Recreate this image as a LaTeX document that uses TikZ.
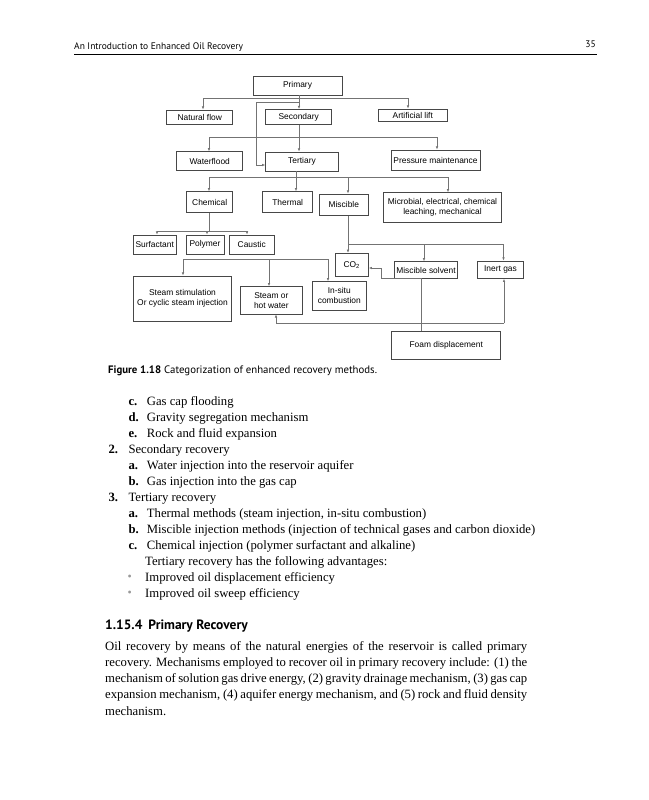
\documentclass[tikz,border=0pt]{standalone}
\usepackage{fontspec}
\setmainfont{Liberation Serif}
\newfontfamily\hdrfont{PT Sans}
\newfontfamily\diafont{Liberation Sans}
\usetikzlibrary{arrows.meta}
\begin{document}
\begin{tikzpicture}[x=1pt,y=-1pt,
  bx/.style={draw=black!72, line width=0.85pt, inner sep=0pt, align=center,
    font=\diafont\fontsize{8.4}{10}\selectfont, text=black},
  ln/.style={draw=black!55, line width=0.75pt},
  arr/.style={ln, -{Latex[length=3.2pt,width=2.6pt]}},
  body/.style={anchor=base west, inner sep=0pt, font=\fontsize{12.7}{16}\selectfont},
  hdr/.style={anchor=base west, inner sep=0pt, font=\hdrfont\fontsize{9.5}{11}\selectfont},
  bul/.style={anchor=base west, inner sep=0pt, text=black!40, font=\fontsize{12}{14}\selectfont},
]
\useasboundingbox (0,0) rectangle (648,800);
\fill[white] (0,0) rectangle (648,800);

% ---------- header ----------
\node[hdr] (hdrtxt) at (74,49) {An Introduction to Enhanced Oil Recovery};
\node[hdr, anchor=base east] (pgno) at (596,48) {35};
\draw[line width=0.6pt] (74,54) -- (597,54);

% ---------- boxes ----------
\node[bx, minimum width=89pt, minimum height=19pt] (prim) at (297.5,85.5) {Primary};
\node[bx, minimum width=66pt, minimum height=14pt] (natfl) at (199.7,117) {Natural flow};
\node[bx, minimum width=66pt, minimum height=15pt] (sec) at (298.7,117) {Secondary};
\node[bx, minimum width=69pt, minimum height=12pt] (art) at (412.8,115) {Artificial lift};

\node[bx, minimum width=66pt, minimum height=19pt] (water) at (209.7,161.3) {Waterflood};
\node[bx, minimum width=72.6pt, minimum height=19pt] (tert) at (302,161.5) {Tertiary};
\node[bx, minimum width=89pt, minimum height=20.7pt] (press) at (435.5,160.3) {Pressure maintenance};

\node[bx, minimum width=46pt, minimum height=21pt] (chem) at (209.7,202.2) {Chemical};
\node[bx, minimum width=50pt, minimum height=21pt] (therm) at (287.7,202.2) {Thermal};
\node[bx, minimum width=49pt, minimum height=21.7pt] (misc) at (343.8,204.8) {Miscible};
\node[bx, minimum width=118.4pt, minimum height=29.6pt] (micro) at (442.5,207.5) {Microbial, electrical, chemical\\leaching, mechanical};

\node[bx, minimum width=42.7pt, minimum height=19pt] (surf) at (154.7,244.5) {Surfactant};
\node[bx, minimum width=38pt, minimum height=19pt] (poly) at (205,244.5) {Polymer};
\node[bx, minimum width=44.7pt, minimum height=19pt] (caus) at (251.7,244.5) {Caustic};

\node[bx, minimum width=33.3pt, minimum height=23.4pt] (co2) at (351.7,265) {CO\textsubscript{2}};
\node[bx, minimum width=63.4pt, minimum height=16.6pt] (msolv) at (426,270) {Miscible solvent};
\node[bx, minimum width=45.6pt, minimum height=17.3pt] (inert) at (500.5,269.7) {Inert gas};

\node[bx, minimum width=98.4pt, minimum height=45.7pt] (stst) at (182.5,298.8) {Steam stimulation\\Or cyclic steam injection};
\node[bx, minimum width=62.7pt, minimum height=27.3pt] (sthw) at (271.3,300.3) {Steam or\\hot water};
\node[bx, minimum width=53.3pt, minimum height=28.3pt] (insitu) at (339.3,295.8) {In-situ\\combustion};

\node[bx, minimum width=109pt, minimum height=27.6pt] (foam) at (446.2,345.5) {Foam displacement};

% ---------- connectors ----------
\draw[ln] (299,0 |- prim.south) -- (299,98);
\draw[ln] (203,98) -- (408,98);
\draw[arr] (203,98) -- (203,0 |- natfl.north);
\draw[arr] (299,98) -- (299,0 |- sec.north);
\draw[arr] (408,98) -- (408,0 |- art.north);
\draw[arr] (299,102) -- (256,102) -- (256,165) -- (tert.west |- 0,165);

\draw[ln] (299,0 |- sec.south) -- (299,137);
\draw[ln] (209,137) -- (437,137);
\draw[arr] (209,137) -- (209,0 |- water.north);
\draw[arr] (299,137) -- (299,0 |- tert.north);
\draw[arr] (437,137) -- (437,0 |- press.north);

\draw[ln] (296,0 |- tert.south) -- (296,177);
\draw[ln] (209,177) -- (448,177);
\draw[arr] (209,177) -- (209,0 |- chem.north);
\draw[arr] (296,177) -- (296,0 |- therm.north);
\draw[arr] (348,177) -- (348,0 |- misc.north);
\draw[arr] (448,177) -- (448,0 |- micro.north);

\draw[ln] (209,0 |- chem.south) -- (209,231);
\draw[ln] (157,231) -- (247,231);
\draw[arr] (157,231) -- (157,0 |- surf.north);
\draw[arr] (207,231) -- (207,0 |- poly.north);
\draw[arr] (247,231) -- (247,0 |- caus.north);

\draw[ln] (348,0 |- misc.south) -- (348,244) -- (503.5,244);
\draw[arr] (348,244) -- (348,0 |- co2.north);
\draw[arr] (424,244) -- (424,0 |- msolv.north);
\draw[arr] (503.5,244) -- (503.5,0 |- inert.north);

\draw[ln] (183,259) -- (328,259);
\draw[arr] (183,259) -- (183,0 |- stst.north);
\draw[arr] (269,259) -- (269,0 |- sthw.north);
\draw[arr] (328,259) -- (328,0 |- insitu.north);

\draw[arr] (421.7,0 |- foam.north) -- (421.7,278) -- (381,278) -- (381,268) -- (co2.east |- 0,268);
\draw[ln] (276,323.3) -- (504,323.3);
\draw[arr] (276,323.3) -- (276,0 |- sthw.south);
\draw[arr] (504,323.3) -- (504,0 |- inert.south);

% ---------- caption ----------
\node[anchor=base west, inner sep=0pt, font=\hdrfont\fontsize{10.8}{13}\selectfont] (cap) at (108,373)
  {\textbf{Figure 1.18}\hspace{3pt}Categorization of enhanced recovery methods.};

% ---------- list ----------
\node[body] (la1) at (128.3,405) {\textbf{c.}};
\node[body] (ta1) at (146.7,405) {Gas cap flooding};
\node[body] (la2) at (128.3,421) {\textbf{d.}};
\node[body] (ta2) at (146.7,421) {Gravity segregation mechanism};
\node[body] (la3) at (128.3,437) {\textbf{e.}};
\node[body] (ta3) at (146.7,437) {Rock and fluid expansion};
\node[body] (la4) at (108.3,453) {\textbf{2.}};
\node[body] (ta4) at (128.3,453) {Secondary recovery};
\node[body] (la5) at (128.3,469) {\textbf{a.}};
\node[body] (ta5) at (146.7,469) {Water injection into the reservoir aquifer};
\node[body] (la6) at (128.3,485) {\textbf{b.}};
\node[body] (ta6) at (146.7,485) {Gas injection into the gas cap};
\node[body] (la7) at (108.3,501) {\textbf{3.}};
\node[body] (ta7) at (128.3,501) {Tertiary recovery};
\node[body] (la8) at (128.3,517) {\textbf{a.}};
\node[body] (ta8) at (146.7,517) {Thermal methods (steam injection, in-situ combustion)};
\node[body] (la9) at (128.3,533) {\textbf{b.}};
\node[body] (ta9) at (146.7,533) {Miscible injection methods (injection of technical gases and carbon dioxide)};
\node[body] (la10) at (128.3,549) {\textbf{c.}};
\node[body] (ta10) at (146.7,549) {Chemical injection (polymer surfactant and alkaline)};
\node[body] (ta11) at (145,565) {Tertiary recovery has the following advantages:};
\node[bul] (lb1) at (127.5,580.5) {\textbullet};
\node[body] (tb1) at (145,581) {Improved oil displacement efficiency};
\node[bul] (lb2) at (127.5,596.5) {\textbullet};
\node[body] (tb2) at (145,597) {Improved oil sweep efficiency};

% ---------- section ----------
\node[anchor=base west, inner sep=0pt, font=\hdrfont\bfseries\fontsize{13.5}{16}\selectfont] (sect) at (105,629)
  {1.15.4\hspace{6pt}Primary Recovery};
\node[body] (p1) at (105,650) {\makebox[422pt][s]{Oil recovery by means of the natural energies of the reservoir is called primary}};
\node[body] (p2) at (105,666.3) {\makebox[422pt][s]{recovery. Mechanisms employed to recover oil in primary recovery include: (1) the}};
\node[body] (p3) at (105,682.5) {\makebox[422pt][s]{mechanism of solution gas drive energy, (2) gravity drainage mechanism, (3) gas cap}};
\node[body] (p4) at (105,698.8) {\makebox[422pt][s]{expansion mechanism, (4) aquifer energy mechanism, and (5) rock and fluid density}};
\node[body] (p5) at (105,715) {mechanism.};
\end{tikzpicture}
\end{document}
